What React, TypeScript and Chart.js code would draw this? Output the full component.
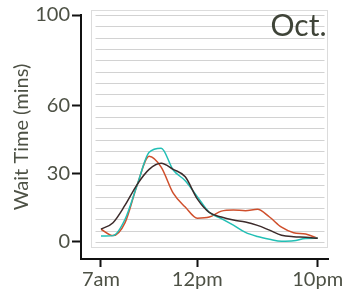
import React, { useEffect, useRef } from 'react';
import { Chart, registerables } from 'chart.js';
Chart.register(...registerables);

// x positions of samples (axis units; ticks placed below)
const xPositions = [0, 0.5, 1, 1.5, 2, 2.5, 3, 3.5, 4, 4.5, 5, 5.5, 6, 6.5, 7, 7.5, 8, 8.5, 9];
const seriesDark = [5.7, 8.5, 16.2, 25.3, 32, 34.7, 32, 28.7, 19, 13, 11, 9.7, 8.8, 7.3, 5.2, 3, 2.3, 2.1, 1.6];
const seriesTeal = [2.6, 2.8, 10, 25, 39.5, 41.3, 31.7, 27, 20, 13, 10.3, 7.4, 4.2, 2.4, 1.2, 0.3, 0.5, 1.5, 1.6];
const seriesRed = [5.6, 2.8, 8.5, 25, 37.8, 33, 21.5, 15.4, 10.5, 11, 13.6, 14.1, 13.8, 14.4, 11, 6.5, 4.1, 3.5, 1.6];
const xTickValues = [0, 4, 9];
const xTickLabels = ['7am', '12pm', '10pm'];
const yTickValues = [0, 30, 60, 100];
const gridValues = [0, 5, 10, 15, 20, 25, 30, 35, 40, 45, 50, 55, 60, 65, 70, 75, 80, 85, 90, 95, 100];
const monthLabel = 'Oct.';
const yTitle = 'Wait Time (mins)';

const TEXT = '#4d5145';
const FONT = 'Lato';

const boxPlugin = {
  id: 'plotBox',
  beforeDatasetsDraw(chart: any) {
    const { ctx, scales, chartArea } = chart;
    const x = scales.x;
    const y = scales.y;
    const left = Math.round(x.getPixelForValue(0)) - 10 + 0.5;
    const right = Math.round(chartArea.right) - 0.5;
    const top = Math.round(y.getPixelForValue(100)) - 5 + 0.5;
    const bottom = Math.round(y.getPixelForValue(0)) + 5 + 0.5;
    ctx.save();
    ctx.fillStyle = '#ffffff';
    ctx.fillRect(left, top, right - left, bottom - top);
    ctx.strokeStyle = '#dcdcdc';
    ctx.lineWidth = 1;
    ctx.strokeRect(left, top, right - left, bottom - top);
    ctx.strokeStyle = '#d2d2d2';
    for (const v of gridValues) {
      const py = Math.round(y.getPixelForValue(v)) + 0.5;
      ctx.beginPath();
      ctx.moveTo(left + 4, py);
      ctx.lineTo(right - 3, py);
      ctx.stroke();
    }
    ctx.fillStyle = '#3f4438';
    ctx.font = `30px ${FONT}`;
    ctx.textAlign = 'right';
    ctx.textBaseline = 'top';
    ctx.fillText(monthLabel, right - 1, top + 1);
    ctx.restore();
  },
};

export default function App() {
  const ref = useRef<HTMLCanvasElement>(null);
  useEffect(() => {
    document.body.style.margin = '0';
    document.body.style.overflow = 'hidden';
    const mk = (data: number[], color: string) => ({
      data: xPositions.map((xv, i) => ({ x: xv, y: data[i] })),
      borderColor: color,
      borderWidth: 1.5,
      pointRadius: 0,
      fill: false,
      cubicInterpolationMode: 'monotone' as const,
    });
    const chart = new Chart(ref.current!, {
      type: 'line',
      data: {
        datasets: [
          mk(seriesDark, '#3b2a2a'),
          mk(seriesTeal, '#22bfb5'),
          mk(seriesRed, '#cf4f2c'),
        ],
      },
      plugins: [boxPlugin],
      options: {
        animation: false,
        responsive: false,
        devicePixelRatio: 1,
        layout: { padding: { top: 15, right: 17, left: 0, bottom: 0 } },
        plugins: { legend: { display: false }, tooltip: { enabled: false } },
        scales: {
          x: {
            type: 'linear',
            min: -0.83,
            max: 9.43,
            afterBuildTicks: (s: any) => {
              s.ticks = xTickValues.map((v) => ({ value: v }));
            },
            afterFit: (s: any) => {
              s.height = 36;
            },
            ticks: {
              autoSkip: false,
              maxRotation: 0,
              padding: 1,
              color: TEXT,
              font: { family: FONT, size: 20 },
              callback: (v: any) => xTickLabels[xTickValues.indexOf(Number(v))],
            },
            grid: { drawOnChartArea: false, drawTicks: true, tickLength: 8, tickWidth: 2, tickColor: '#111' },
            border: { display: true, color: '#111', width: 2 },
          },
          y: {
            type: 'linear',
            min: -7.5,
            max: 100,
            afterBuildTicks: (s: any) => {
              s.ticks = yTickValues.map((v) => ({ value: v }));
            },
            afterFit: (s: any) => {
              s.width = 81;
            },
            ticks: {
              padding: 2,
              color: TEXT,
              font: { family: FONT, size: 20 },
              callback: (v: any) => String(v),
            },
            grid: { drawOnChartArea: false, drawTicks: true, tickLength: 9, tickWidth: 2, tickColor: '#111' },
            border: { display: true, color: '#111', width: 2 },
            title: {
              display: true,
              text: yTitle,
              color: TEXT,
              font: { family: FONT, size: 20 },
              padding: { top: 10, bottom: 0 },
            },
          },
        },
      },
    });
    return () => chart.destroy();
  }, []);
  return (
    <div style={{ width: 345, height: 295 }}>
      <canvas ref={ref} width={345} height={295} style={{ display: 'block' }} />
    </div>
  );
}
